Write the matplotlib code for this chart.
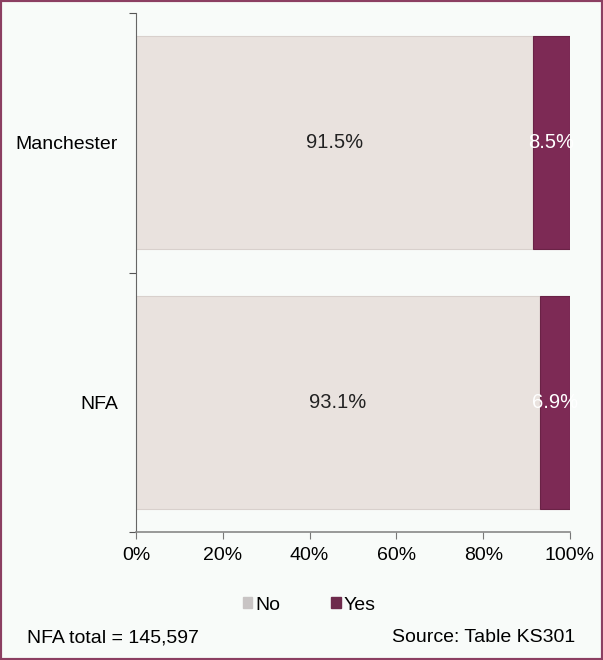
import numpy as np
import matplotlib.pyplot as plt
from matplotlib.patches import Patch, Rectangle

plt.rcParams['font.family'] = ['Liberation Sans', 'DejaVu Sans']

# data
areas = ["NFA", "Manchester"]
no_pct = [93.1, 91.5]
yes_pct = [6.9, 8.5]
series = ["No", "Yes"]
footer_left = "NFA total = 145,597"
footer_right = "Source: Table KS301"

col_no = "#e9e2de"
col_yes = "#7d2a55"
bg = "#f8fbf9"

fig = plt.figure(figsize=(6.03, 6.6), dpi=100, facecolor=bg)
ax = fig.add_axes([136/603, 1 - 532/660, 434/603, 519/660])
ax.set_facecolor(bg)

ypos = np.arange(len(areas))
no_frac = np.array(no_pct) / 100
yes_frac = np.array(yes_pct) / 100
ax.barh(ypos, no_frac, height=0.82, color=col_no, edgecolor="#d8d0cc", linewidth=0.8)
ax.barh(ypos, yes_frac, left=no_frac, height=0.82, color=col_yes, edgecolor="#6a2246", linewidth=0.8)

# value labels
for y, n, s in zip(ypos, no_frac, yes_frac):
    ax.text(n / 2, y, f"{n*100:.1f}%", ha="center", va="center", fontsize=14.5, color="#222222")
    ax.text(n + s / 2, y, f"{s*100:.1f}%", ha="center", va="center", fontsize=14.5, color="white")

ax.set_xlim(0, 1)
ax.set_ylim(-0.5, 1.5)
ax.set_xticks(np.linspace(0, 1, 6))
ax.set_xticklabels([f"{int(v*100)}%" for v in np.linspace(0, 1, 6)], fontsize=14)
ax.tick_params(axis="x", length=5, color="#777777", pad=6)

# category boundaries as major ticks, labels on minor ticks
ax.set_yticks([-0.5, 0.5, 1.5])
ax.set_yticklabels([])
ax.set_yticks(ypos, minor=True)
ax.set_yticklabels(areas, minor=True, fontsize=14)
ax.tick_params(axis="y", which="major", length=5, color="#555555")
ax.tick_params(axis="y", which="minor", length=0, pad=13)

for side in ["top", "right"]:
    ax.spines[side].set_visible(False)
ax.spines["left"].set_color("#666666")
ax.spines["bottom"].set_color("#888888")
ax.spines["bottom"].set_linewidth(1.2)

handles = [Patch(facecolor="#c8c4c4", edgecolor="#c8c4c4"), Patch(facecolor="#6e2a4c", edgecolor="#6e2a4c")]
fig.legend(handles, series, loc="center", bbox_to_anchor=(309/603, 1 - 605/660), ncol=2,
           frameon=False, handlelength=0.5, handleheight=0.55, handletextpad=0.15,
           columnspacing=2.6, fontsize=14)

fig.text(27/603, 1 - 638/660, footer_left, ha="left", va="center", fontsize=14)
fig.text(575/603, 1 - 638/660, footer_right, ha="right", va="center", fontsize=14)

# border
fig.patches.append(Rectangle((0, 0), 1, 1, transform=fig.transFigure, fill=False,
                             edgecolor="#8c3f62", linewidth=3))

fig.savefig("out.png", dpi=100, facecolor=bg)
